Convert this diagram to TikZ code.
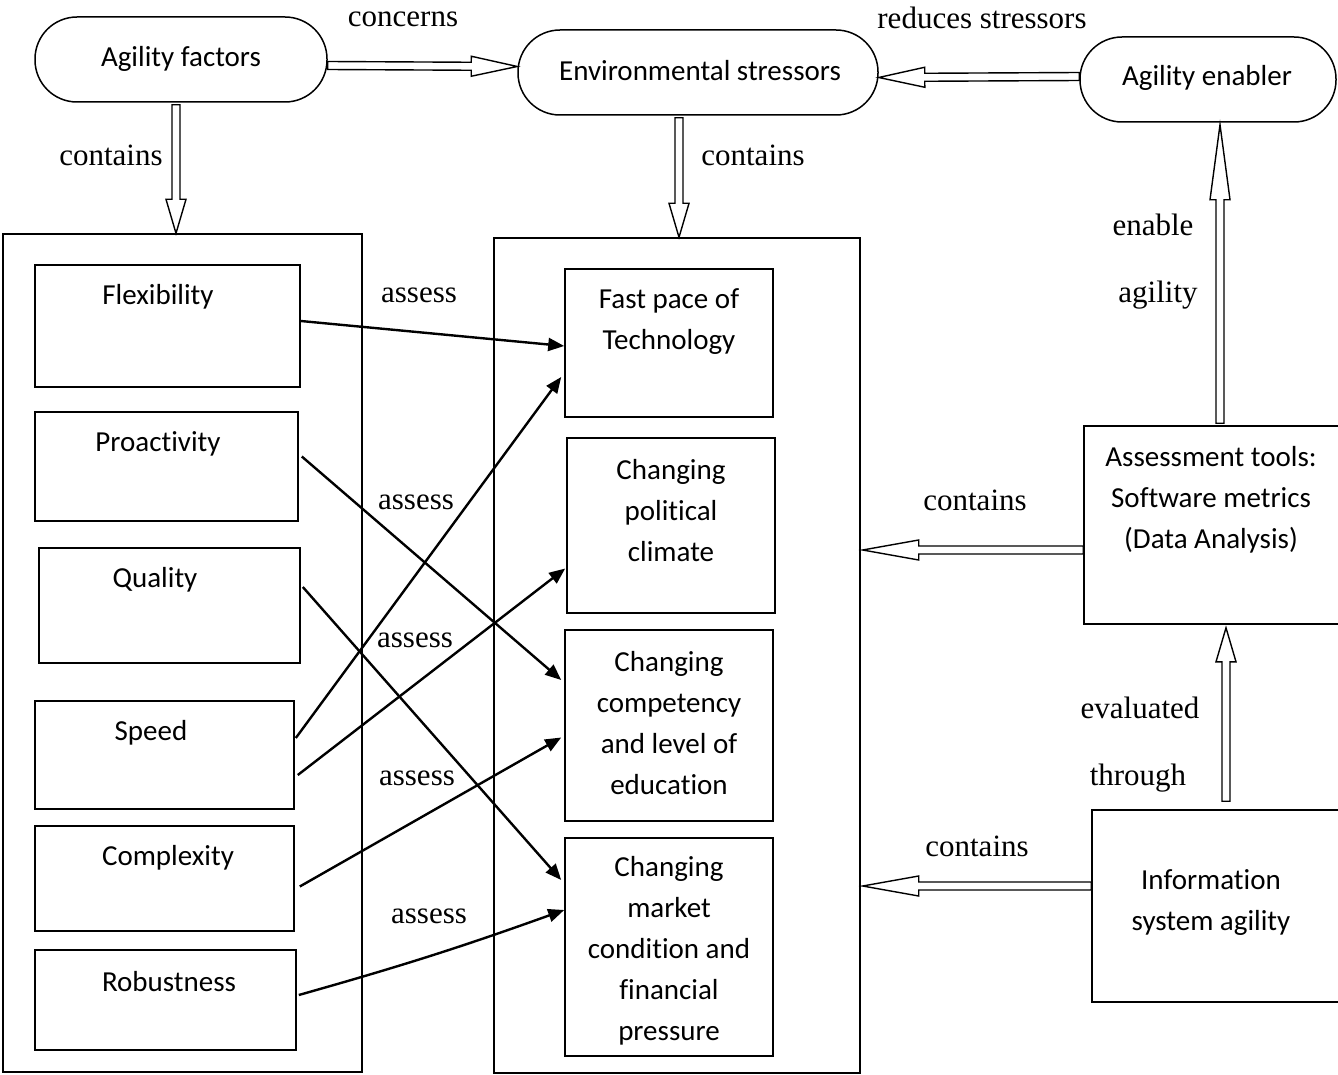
\documentclass[tikz,border=0pt]{standalone}
\usepackage{fontspec}
\setmainfont{Liberation Serif}
\newfontfamily\boxfamily[Ligatures=NoCommon]{Carlito}
\usetikzlibrary{calc,arrows.meta}

% Hollow block arrow: [head length]{start}{end}
\newcommand{\hollowarrow}[3][46]{%
  \coordinate (ha-s) at (#2);
  \coordinate (ha-e) at (#3);
  \coordinate (ha-b) at ($(ha-e)!#1pt!(ha-s)$);
  \draw[hollow] ($(ha-s)!4pt!90:(ha-e)$) -- ($(ha-b)!4pt!90:(ha-e)$)
    -- ($(ha-b)!10pt!90:(ha-e)$) -- (ha-e) -- ($(ha-b)!10pt!-90:(ha-e)$)
    -- ($(ha-b)!4pt!-90:(ha-e)$) -- ($(ha-s)!4pt!-90:(ha-e)$) -- cycle;
}

\tikzset{
  bodytext/.style={font=\boxfamily\fontsize{29}{41}\selectfont, align=center, inner sep=0pt},
  lbl/.style={font=\fontsize{31}{36}\selectfont, anchor=base, inner sep=0pt},
  stadium/.style={draw, line width=1.5pt, rounded corners=42pt, inner sep=0pt},
  box/.style={draw, line width=1.6pt, inner sep=0pt},
  frame/.style={draw, line width=1.4pt, inner sep=0pt},
  hollow/.style={draw, line width=1.4pt, fill=white, line join=miter},
  assess/.style={line width=2.4pt, -{Triangle[length=16pt,width=13pt]}},
}

\begin{document}
\begin{tikzpicture}[x=1pt,y=-1pt]
\clip (0,0) rectangle (1338,1075);
\fill[white] (0,0) rectangle (1338,1075);

% top row
\node[stadium, minimum width=292pt, minimum height=85pt] (af) at (181,59.5) {};
\node[bodytext] (af-t) at (181,59) {Agility factors};
\node[stadium, minimum width=360pt, minimum height=85pt] (es) at (698,72.5) {};
\node[bodytext] (es-t) at (700,71) {Environmental stressors};
\node[stadium, minimum width=256pt, minimum height=85pt] (ae) at (1208,79.5) {};
\node[bodytext] (ae-t) at (1207,78) {Agility enabler};

% containers
\node[frame, minimum width=359pt, minimum height=838pt] (lc) at (182.5,653) {};
\node[frame, minimum width=366pt, minimum height=835pt] (mc) at (677,655.5) {};

% agility factors
\node[box, minimum width=265pt, minimum height=122pt] (flex) at (167.5,326) {};
\node[bodytext] (flex-t) at (158,297) {Flexibility};
\node[box, minimum width=263pt, minimum height=109pt] (proa) at (166.5,466.5) {};
\node[bodytext] (proa-t) at (158,444) {Proactivity};
\node[box, minimum width=261pt, minimum height=115pt] (qual) at (169.5,605.5) {};
\node[bodytext] (qual-t) at (155,580) {Quality};
\node[box, minimum width=259pt, minimum height=108pt] (speed) at (164.5,755) {};
\node[bodytext] (speed-t) at (151,733) {Speed};
\node[box, minimum width=259pt, minimum height=105pt] (cplx) at (164.5,878.5) {};
\node[bodytext] (cplx-t) at (168,858) {Complexity};
\node[box, minimum width=261pt, minimum height=100pt] (rob) at (165.5,1000) {};
\node[bodytext] (rob-t) at (169,982) {Robustness};

% environmental stressors
\node[box, minimum width=208pt, minimum height=148pt] (fast) at (669,343) {};
\node[bodytext] (fast-t) at (669,322) {Fast pace of\\Technology};
\node[box, minimum width=208pt, minimum height=175pt] (pol) at (671,525.5) {};
\node[bodytext] (pol-t) at (671,511) {Changing\\political\\climate};
\node[box, minimum width=208pt, minimum height=191pt] (comp) at (669,725.5) {};
\node[bodytext] (comp-t) at (669,723) {Changing\\competency\\and level of\\education};
\node[box, minimum width=208pt, minimum height=218pt] (mkt) at (669,947) {};
\node[bodytext] (mkt-t) at (669,951) {Changing\\market\\condition and\\financial\\pressure};

% right column
\node[box, minimum width=266pt, minimum height=198pt] (at) at (1217,525) {};
\node[bodytext] (at-t) at (1211,500) {Assessment tools:\\Software metrics\\(Data Analysis)};
\node[box, minimum width=258pt, minimum height=192pt] (isa) at (1221,906) {};
\node[bodytext] (isa-t) at (1211,903) {Information\\system agility};

% block arrows
\hollowarrow{$(af.east)+(0,6)$}{$(es.west)+(0,-6)$}
\hollowarrow{$(ae.west)+(0,-3)$}{$(es.east)+(0,5)$}
\hollowarrow[34]{$(af.south)+(-5,2)$}{$(lc.north)+(-6.5,0)$}
\hollowarrow[34]{$(es.south)+(-19,2)$}{$(mc.north)+(2,0)$}
\hollowarrow[75]{$(at.north)+(3,-2)$}{$(ae.south)+(12,2)$}
\hollowarrow[56]{$(at.west)+(0,25)$}{$(mc.east)+(2,-105.5)$}
\hollowarrow[34]{$(isa.north)+(5,-8)$}{$(at.south)+(9,3)$}
\hollowarrow[56]{$(isa.west)+(0,-20)$}{$(mc.east)+(2,230.5)$}

% assess connectors
\draw[assess] ($(flex.east)+(0,-5)$) -- ($(fast.west)+(0,3)$);
\draw[assess] ($(proa.east)+(3,-10)$) -- ($(comp.west)+(-3,-45.5)$);
\draw[assess] ($(qual.east)+(2,-18.5)$) -- ($(mkt.west)+(-3,-67)$);
\draw[assess] ($(speed.east)+(1,-17)$) -- ($(fast.west)+(-3,34)$);
\draw[assess] ($(speed.east)+(3,20)$) -- ($(pol.west)+(-1,43)$);
\draw[assess] ($(cplx.east)+(5,8)$) -- ($(comp.west)+(-3,12)$);
\draw[assess] ($(rob.east)+(2,-5)$) to[bend right=2] ($(mkt.west)+(0,-37)$);

% connector labels
\node[lbl] (l-conc) at (403,27) {concerns};
\node[lbl] (l-red) at (982,29) {reduces stressors};
\node[lbl] (l-c1) at (111,166) {contains};
\node[lbl] (l-c2) at (753,166) {contains};
\node[lbl] (l-en) at (1153,236) {enable};
\node[lbl] (l-ag) at (1158,302) {agility};
\node[lbl] (l-c3) at (975,510) {contains};
\node[lbl] (l-c4) at (977,856) {contains};
\node[lbl] (l-ev) at (1140,718) {evaluated};
\node[lbl] (l-th) at (1138,785) {through};
\node[lbl] (l-a1) at (419,302) {assess};
\node[lbl] (l-a2) at (416,509) {assess};
\node[lbl] (l-a3) at (415,647) {assess};
\node[lbl] (l-a4) at (417,785) {assess};
\node[lbl] (l-a5) at (429,923) {assess};
\end{tikzpicture}
\end{document}
